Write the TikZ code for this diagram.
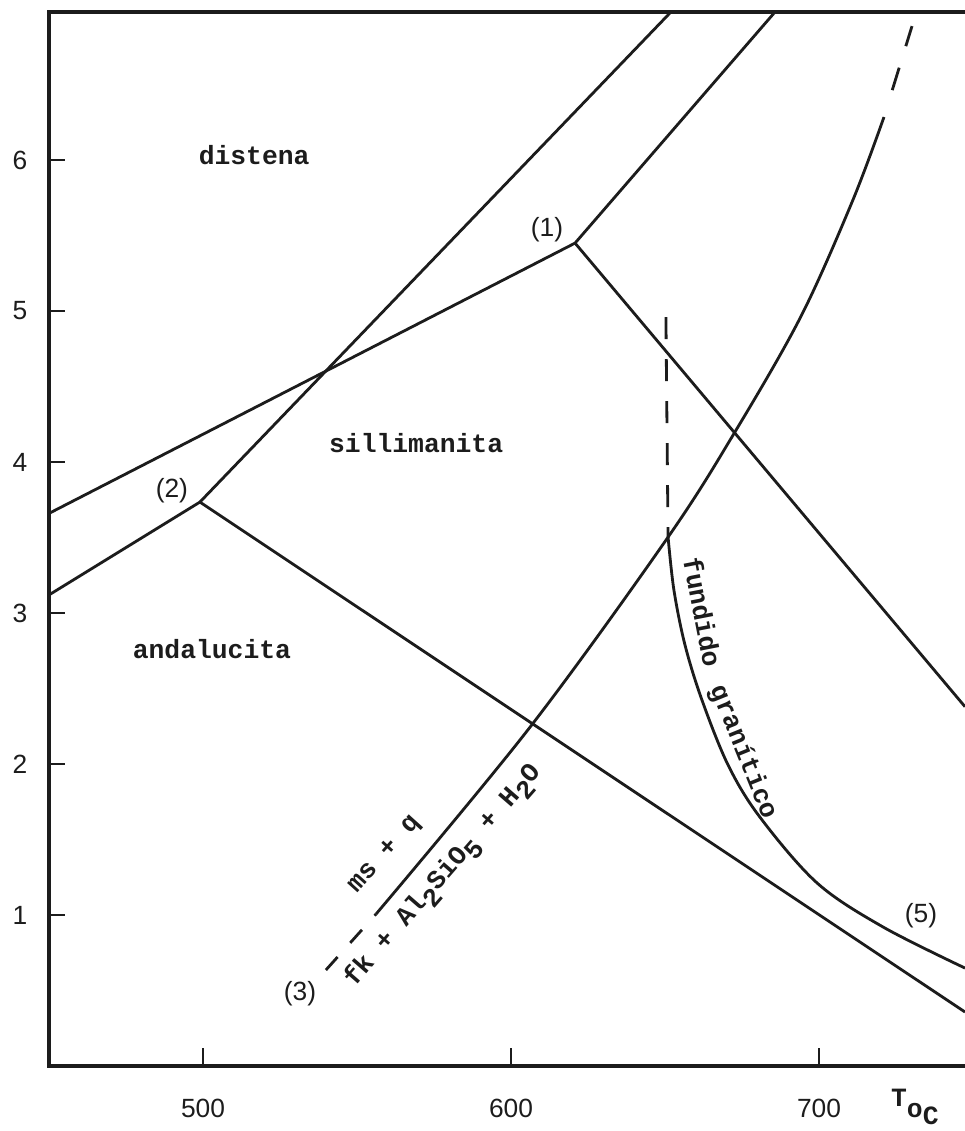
\documentclass[tikz,border=0pt]{standalone}
\usepackage{fontspec}
\setmainfont{Liberation Sans}
\newfontfamily\typefont{Liberation Mono}
\usepackage{xcolor}
\definecolor{InkBlack}{HTML}{1C1C1C}
\usepackage{tikz}
\usetikzlibrary{calc}
\newcommand{\sublow}[1]{\raisebox{-0.6ex}{#1}}

\begin{document}
\begin{tikzpicture}[x=0.0616cm, y=3.02cm,
  phase/.style={InkBlack, line width=1.6pt},
  axisline/.style={InkBlack, line width=1.9pt},
  region/.style={InkBlack, font=\fontsize{15}{18}\selectfont\typefont\bfseries},
  tag/.style={InkBlack, font=\fontsize{15}{18}\selectfont},
  axisnum/.style={InkBlack, font=\fontsize{15}{18}\selectfont}]
  \useasboundingbox (434.1,-0.43) rectangle (747.4,7.06);
  %% frame and axes
  \draw[axisline] (747.4,6.98) -- (450,6.98) -- (450,0) -- (747.4,0);
  \foreach \t in {500,600,700} {
    \draw[phase] (\t,0) -- (\t,0.12);
    \node[axisnum] (t\t) at (\t,-0.28) {\t};
  }
  \foreach \p in {1,...,6} {
    \draw[phase] (450,\p) -- (455.2,\p);
    \node[axisnum] (p\p) at (440.6,\p) {\p};
  }
  \node[region, anchor=base west] (tunit) at (721.4,-0.27)
    {T\raisebox{-0.75ex}{o\raisebox{-0.55ex}{C}}};
  %% invariant points
  \coordinate (tp1) at (620.8,5.45);
  \coordinate (tp2) at (499.0,3.735);
  %% Al2SiO5 boundaries, set (1)
  \draw[phase, line join=round] (450,3.66) -- (tp1) -- (685.7,6.98);
  \draw[phase] (tp1) -- (747.4,2.38);
  %% Al2SiO5 boundaries, set (2)
  \draw[phase, line join=round] (450,3.12) -- (tp2) -- (651.9,6.98);
  \draw[phase] (tp2) -- (747.4,0.358);
  %% reaction (3)
  \draw[phase, dash pattern=on 0.35cm off 0.38cm] (539.9,0.636) -- (556.2,1.007);
  \draw[phase] plot[smooth, tension=0.55] coordinates
    {(556.2,1.007) (606.2,2.245) (651.0,3.503) (672.7,4.199) (694.2,4.967)
     (711.0,5.735) (721.1,6.285)};
  \draw[phase, dash pattern=on 0.42cm off 0.45cm on 0.47cm off 1cm] (730.2,6.887) -- (721.1,6.285);
  %% granite melt (5)
  \draw[phase, dash pattern=on 0.44cm off 0.4cm] (650.3,4.96) -- (651.0,3.503);
  \draw[phase] plot[smooth, tension=0.55] coordinates
    {(651.0,3.503) (652.9,3.152) (656.5,2.788) (662.0,2.424) (670.5,1.993)
     (680.8,1.649) (699.4,1.212) (720.8,0.921) (747.4,0.649)};
  %% region labels
  \node[region] (distena) at (516.6,6.03) {distena};
  \node[region] (silli) at (569.2,4.126) {sillimanita};
  \node[region] (andal) at (502.9,2.76) {andalucita};
  \node[tag] (lab1) at (611.7,5.54) {(1)};
  \node[tag] (lab2) at (489.9,3.81) {(2)};
  \node[tag] (lab3) at (531.5,0.477) {(3)};
  \node[tag] (lab5) at (733.1,0.993) {(5)};
  %% reaction text
  \node[region, rotate=48] (react) at (559.1,1.397) {ms + q};
  \node[region, rotate=49] (prod) at (578.2,1.258)
    {fk + Al\sublow{2}SiO\sublow{5} + H\sublow{2}O};
  \node[region, rotate=-79] (fund) at (662.3,3.007) {fundido};
  \node[region, rotate=-68] (gran) at (675.3,2.079) {granítico};
\end{tikzpicture}
\end{document}
